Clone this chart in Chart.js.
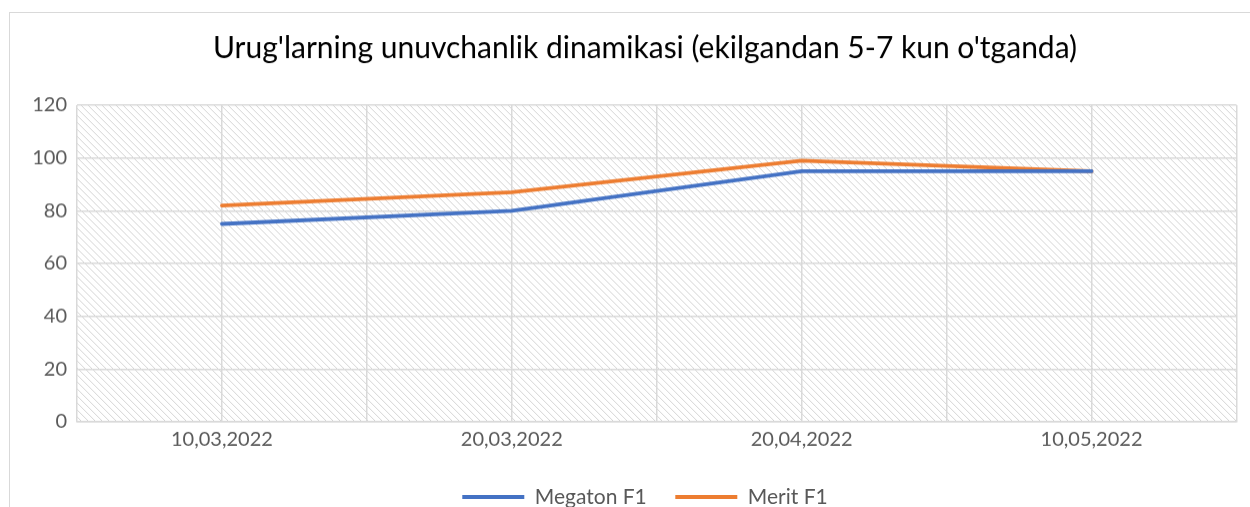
<!DOCTYPE html>
<html>
<head>
<meta charset="utf-8">
<script src="https://cdn.jsdelivr.net/npm/chart.js@4"></script>
<style>
  html, body { margin: 0; padding: 0; background: #fff; overflow: hidden; }
  #frame {
    position: absolute; left: 9px; top: 12px;
    width: 1272px; height: 507.5px;
    border: 1.5px solid #d9d9d9; box-sizing: border-box;
  }
</style>
</head>
<body>
<div id="frame"><canvas id="chart-area"></canvas></div>
<script>
var categories = ['10,03,2022', '20,03,2022', '20,04,2022', '10,05,2022'];
var megatonValues = [75, 80, 95, 95];
var meritValues = [82, 87, 99, 95];
var yTicks = [0, 20, 40, 60, 80, 100, 120];

function toPoints(values) {
    return values.map(function (v, i) { return { x: i, y: v }; });
}

// diagonal hatch behind the plot area
var hatchPlugin = {
    id: 'hatch',
    beforeDraw: function (chart) {
        var area = chart.chartArea;
        var ctx = chart.ctx;
        var s = 7;
        var tile = document.createElement('canvas');
        tile.width = s;
        tile.height = s;
        var t = tile.getContext('2d');
        t.strokeStyle = '#d4d4d4';
        t.lineWidth = 1;
        t.beginPath();
        [-s, 0, s].forEach(function (o) {
            t.moveTo(o, 0);
            t.lineTo(o + s, s);
        });
        t.stroke();
        ctx.save();
        ctx.fillStyle = ctx.createPattern(tile, 'repeat');
        ctx.fillRect(area.left, area.top, area.right - area.left, area.bottom - area.top);
        ctx.restore();
    }
};

var ctx = document.getElementById('chart-area').getContext('2d');
var config = {
    type: 'line',
    data: {
        datasets: [{
            label: 'Megaton F1',
            data: toPoints(megatonValues),
            borderColor: '#4472C4',
            backgroundColor: '#4472C4',
            borderWidth: 3.8,
            borderCapStyle: 'round',
            borderJoinStyle: 'round',
            pointRadius: 0,
            tension: 0
        }, {
            label: 'Merit F1',
            data: toPoints(meritValues),
            borderColor: '#ED7D31',
            backgroundColor: '#ED7D31',
            borderWidth: 3.8,
            borderCapStyle: 'round',
            borderJoinStyle: 'round',
            pointRadius: 0,
            tension: 0
        }]
    },
    options: {
        responsive: true,
        maintainAspectRatio: false,
        animation: false,
        layout: { padding: { left: 0, right: 0, top: 4, bottom: 2 } },
        plugins: {
            title: {
                display: true,
                text: "Urug'larning unuvchanlik dinamikasi (ekilgandan 5-7 kun o'tganda)",
                color: '#000',
                font: { family: 'Lato', size: 30, weight: 'normal' },
                padding: { top: 13, bottom: 39 }
            },
            legend: {
                position: 'bottom',
                labels: {
                    usePointStyle: true,
                    pointStyle: 'line',
                    pointStyleWidth: 62,
                    color: '#595959',
                    font: { family: 'Lato', size: 21 },
                    padding: 28.5
                }
            },
            tooltip: { enabled: false }
        },
        scales: {
            x: {
                type: 'linear',
                min: -0.5,
                max: categories.length - 0.5,
                afterBuildTicks: function (axis) {
                    var ticks = [];
                    for (var v = -0.5; v <= categories.length - 0.5 + 1e-9; v += 0.5) {
                        ticks.push({ value: v });
                    }
                    axis.ticks = ticks;
                },
                ticks: {
                    autoSkip: false,
                    maxRotation: 0,
                    color: '#595959',
                    font: { family: 'Lato', size: 20 },
                    padding: 6,
                    callback: function (value) {
                        return Number.isInteger(value) ? categories[value] : '';
                    }
                },
                grid: { color: '#d9d9d9', lineWidth: 1.5, drawTicks: false },
                border: { color: '#d9d9d9', width: 1.5 }
            },
            y: {
                min: 0,
                max: 120,
                afterBuildTicks: function (axis) {
                    axis.ticks = yTicks.map(function (v) { return { value: v }; });
                },
                afterFit: function (axis) {
                    axis.width = 67;
                },
                ticks: {
                    color: '#595959',
                    font: { family: 'Lato', size: 20 },
                    padding: 10
                },
                grid: { color: '#d9d9d9', lineWidth: 1.5, drawTicks: false },
                border: { display: false }
            },
            // empty right-hand spacer so title and legend stay centred in the frame
            yRight: {
                position: 'right',
                min: 0,
                max: 120,
                ticks: { display: false },
                grid: { display: false, drawTicks: false },
                border: { display: false },
                afterFit: function (axis) {
                    axis.width = 43.5;
                }
            }
        }
    },
    plugins: [hatchPlugin]
};
var chart = new Chart(ctx, config);
</script>
</body>
</html>
